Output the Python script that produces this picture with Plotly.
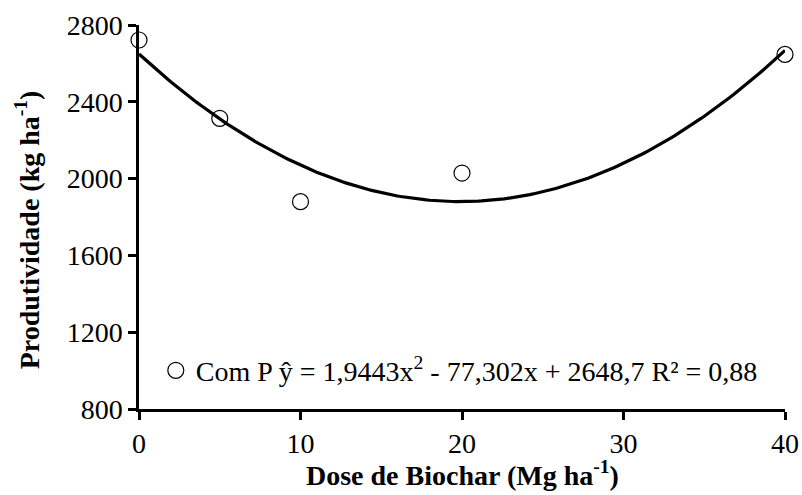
import numpy as np
import plotly.graph_objects as go

# Data
dose = [0, 5, 10, 20, 40]
produtividade = [2722, 2314, 1880, 2029, 2647]

# Fitted quadratic trend coefficients (as displayed on the chart)
coef_a, coef_b, coef_c = 1.9443, -77.302, 2648.7
r2_text = "0,88"

x_fit = np.linspace(0, 40, 201)
y_fit = coef_a * x_fit**2 + coef_b * x_fit + coef_c

legend_label = "Com P ŷ = 1,9443x<sup>2</sup> - 77,302x + 2648,7 R² = " + r2_text
x_title = "<b>Dose de Biochar (Mg ha<sup>-1</sup>)</b>"
y_title = "<b>Produtividade (kg ha<sup>-1</sup>)</b>"

font_family = "Liberation Serif, Times New Roman, serif"
fs = 28

fig = go.Figure()
fig.add_trace(go.Scatter(
    x=x_fit, y=y_fit, mode="lines",
    line=dict(color="black", width=3.2),
    showlegend=False, hoverinfo="skip", cliponaxis=False,
))
fig.add_trace(go.Scatter(
    x=dose, y=produtividade, mode="markers",
    marker=dict(symbol="circle-open", size=16, color="black", line=dict(width=1.2, color="black")),
    name=legend_label, cliponaxis=False,
))

fig.add_annotation(text=x_title, xref="paper", yref="paper", x=0.5, y=-0.168,
                   xanchor="center", yanchor="middle", showarrow=False,
                   font=dict(size=fs, family=font_family, color="black"))
fig.add_annotation(text=y_title, xref="paper", yref="paper", x=-0.173, y=0.466,
                   xanchor="center", yanchor="middle", showarrow=False, textangle=-90,
                   font=dict(size=fs, family=font_family, color="black"))

fig.update_layout(
    width=802, height=495,
    margin=dict(l=139, r=17, t=25, b=86),
    paper_bgcolor="white", plot_bgcolor="white",
    font=dict(family=font_family, size=fs, color="black"),
    showlegend=True,
    legend=dict(x=0.026, y=0.1, xanchor="left", yanchor="middle",
                bgcolor="rgba(0,0,0,0)", font=dict(size=fs, family=font_family),
                itemwidth=30, tracegroupgap=0),
    xaxis=dict(
        range=[0, 40], tickvals=[0, 10, 20, 30, 40],
        tickfont=dict(size=fs, family=font_family),
        showline=True, linecolor="black", linewidth=2.5,
        ticks="outside", ticklen=8, tickwidth=2.5, tickcolor="black",
        showgrid=False, zeroline=False, automargin=False,
    ),
    yaxis=dict(
        range=[800, 2800], tickvals=[800, 1200, 1600, 2000, 2400, 2800],
        tickfont=dict(size=fs, family=font_family),
        showline=True, linecolor="black", linewidth=2.5,
        ticks="outside", ticklen=8, tickwidth=2.5, tickcolor="black",
        showgrid=False, zeroline=False, automargin=False,
    ),
)

fig.write_html("out.html")
